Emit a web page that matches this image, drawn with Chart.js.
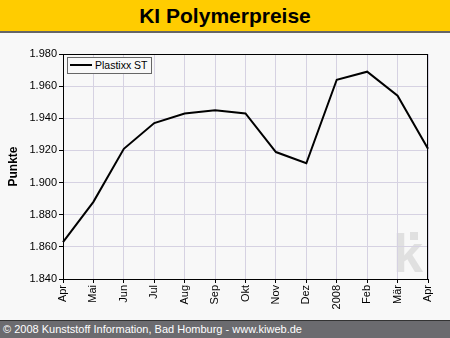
<!DOCTYPE html>
<html>
<head>
<meta charset="utf-8">
<script src="https://cdn.jsdelivr.net/npm/chart.js@4/dist/chart.umd.min.js"></script>
<style>
  html, body { margin: 0; padding: 0; background: #f8f8f8; }
  #wrap { position: relative; width: 450px; height: 338px; overflow: hidden; font-family: Arial, "Liberation Sans", sans-serif; }
  #chart { position: absolute; left: 0; top: 0; }
  #title {
    position: absolute; left: 0; top: 0; width: 450px; height: 31px;
    background: #ffcc00; border-bottom: 2px solid #666;
    text-align: center; font-weight: bold; font-size: 21px; line-height: 32px; color: #000;
  }
  #footer {
    position: absolute; left: 0; top: 320px; width: 450px; height: 18px;
    background: #6b6b6f; border-top: 1px solid #333;
    color: #fff; font-size: 11px; line-height: 17px; padding-left: 3px; box-sizing: border-box;
  }
  #legend {
    position: absolute; left: 67px; top: 57px; height: 15px; padding: 0 3px 0 2px;
    border: 1px solid #666; background: #f8f8f8; font-size: 10.5px; line-height: 15px; color: #000;
  }
  #legend span.ln { display: inline-block; width: 22px; height: 2px; background: #000; vertical-align: middle; margin-right: 3px; margin-top: -2px; }
</style>
</head>
<body>
<div id="wrap">
  <canvas id="chart" width="450" height="338"></canvas>
  <div id="title">KI Polymerpreise</div>
  <div id="legend"><span class="ln"></span>Plastixx ST</div>
  <div id="footer">© 2008 Kunststoff Information, Bad Homburg - www.kiweb.de</div>
</div>
<script>
// monthly index, Apr 2007 – Apr 2008
const months = ["Apr", "Mai", "Jun", "Jul", "Aug", "Sep", "Okt", "Nov", "Dez", "2008", "Feb", "Mär", "Apr"];
const plastixxST = [1863, 1888, 1921, 1937, 1943, 1945, 1943, 1919, 1912, 1964, 1969, 1954, 1921];
const yMin = 1840, yMax = 1980, yStep = 20;

// german thousands separator: 1980 -> "1.980"
const fmt = v => String(v).replace(/\B(?=(\d{3})+(?!\d))/g, ".");

// faint "ki" mark in the lower right corner + black frame around plot
const decor = {
  id: "decor",
  beforeDraw(chart) {
    const ctx = chart.ctx;
    ctx.save();
    ctx.fillStyle = "#e0e0e0";
    ctx.font = "bold 54px Arial, 'Liberation Sans', sans-serif";
    ctx.textBaseline = "alphabetic";
    ctx.fillText("k", 393, 272);
    ctx.fillRect(410, 232, 8, 8);
    ctx.restore();
  },
  afterDraw(chart) {
    const a = chart.chartArea, ctx = chart.ctx;
    ctx.save();
    ctx.strokeStyle = "#000";
    ctx.lineWidth = 1;
    ctx.strokeRect(Math.round(a.left) + 0.5, Math.round(a.top) + 0.5, Math.round(a.right - a.left) - 1, Math.round(a.bottom - a.top));
    ctx.restore();
  }
};

const tickFont = { family: "Arial, 'Liberation Sans', sans-serif", size: 11 };

new Chart(document.getElementById("chart"), {
  type: "line",
  data: {
    labels: months,
    datasets: [{
      label: "Plastixx ST",
      data: plastixxST,
      borderColor: "#000",
      borderWidth: 2,
      pointRadius: 0,
      tension: 0,
      fill: false
    }]
  },
  options: {
    responsive: false,
    animation: false,
    layout: { padding: { left: 0, top: 54, right: 22, bottom: 0 } },
    plugins: { legend: { display: false }, tooltip: { enabled: false } },
    scales: {
      x: {
        offset: false,
        afterFit: s => { s.height = 59; },
        grid: { color: "#d6d2e2", tickColor: "#000", tickLength: 4, drawOnChartArea: true },
        border: { color: "#000", width: 1 },
        ticks: { color: "#000", font: tickFont, maxRotation: 90, minRotation: 90, padding: 2, autoSkip: false }
      },
      y: {
        min: yMin,
        max: yMax,
        afterFit: s => { s.width = 63; },
        grid: { color: "#d6d2e2", tickColor: "#000", tickLength: 4 },
        border: { color: "#000", width: 1 },
        ticks: { color: "#000", font: tickFont, stepSize: yStep, padding: 2, callback: v => fmt(v) },
        title: {
          display: true, text: "Punkte", color: "#000",
          font: { family: "Arial, 'Liberation Sans', sans-serif", size: 12, weight: "bold" },
          padding: { top: 6, bottom: 0 }
        }
      }
    }
  },
  plugins: [decor]
});
</script>
</body>
</html>
